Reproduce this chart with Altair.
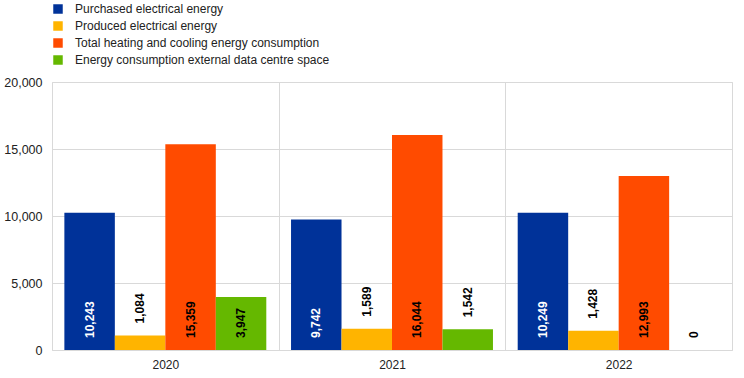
import altair as alt
import pandas as pd

years = ["2020", "2021", "2022"]
series = [
    "Purchased electrical energy",
    "Produced electrical energy",
    "Total heating and cooling energy consumption",
    "Energy consumption external data centre space",
]
purchased = [10243, 9742, 10249]
produced = [1084, 1589, 1428]
heating = [15359, 16044, 12993]
external = [3947, 1542, 0]
colors = ["#003299", "#FFB400", "#FF4B00", "#65B800"]

rows = []
for i, y in enumerate(years):
    for s, vals in zip(series, [purchased, produced, heating, external]):
        rows.append({"year": y, "series": s, "value": vals[i]})
df = pd.DataFrame(rows)

FONT = "Liberation Sans"
GRID = "#d9d9d9"

base = alt.Chart(df).encode(
    x=alt.X(
        "year:N",
        title=None,
        scale=alt.Scale(paddingInner=0, paddingOuter=0),
        axis=alt.Axis(
            labelAngle=0, grid=True, gridColor=GRID, tickBand="extent",
            ticks=False, domain=False, labelPadding=9, labelFontSize=12,
            labelFont=FONT, labelColor="#222222",
        ),
    ),
    xOffset=alt.XOffset(
        "series:N", sort=series,
        scale=alt.Scale(domain=series, paddingOuter=0.245, paddingInner=0),
    ),
)

bars = base.mark_bar().encode(
    y=alt.Y(
        "value:Q", title=None,
        scale=alt.Scale(domain=[0, 20000]),
        axis=alt.Axis(
            values=[0, 5000, 10000, 15000, 20000], format=",.0f",
            gridColor=GRID, ticks=False, domain=False, labelPadding=10,
            labelFontSize=12.5, labelFont=FONT, labelColor="#222222",
        ),
    ),
    color=alt.Color(
        "series:N", sort=series,
        scale=alt.Scale(domain=series, range=colors),
        legend=alt.Legend(
            title=None, orient="none", legendX=0, legendY=-79,
            symbolType="square", symbolSize=90, symbolStrokeWidth=0,
            labelFont=FONT, labelFontSize=12, labelColor="#222222",
            labelOffset=11, rowPadding=5, labelLimit=400,
        ),
    ),
)

text = base.transform_calculate(
    labelY="datum.value > 3000 ? 0 : datum.value",
    label="format(datum.value, ',')",
).mark_text(
    angle=270, align="left", baseline="middle", dx=12,
    fontWeight="bold", fontSize=12, font=FONT,
).encode(
    y=alt.Y("labelY:Q"),
    text="label:N",
    color=alt.condition(alt.datum.series == series[0], alt.value("white"), alt.value("black")),
)

chart = alt.layer(bars, text).properties(
    width=680, height=268,
    padding={"left": 52, "top": 82, "right": 12, "bottom": 28},
    autosize=alt.AutoSizeParams(type="none"),
).configure_view(stroke=GRID).configure(background="white")

chart.save("out.html", embed_options={"renderer": "svg", "actions": False})
